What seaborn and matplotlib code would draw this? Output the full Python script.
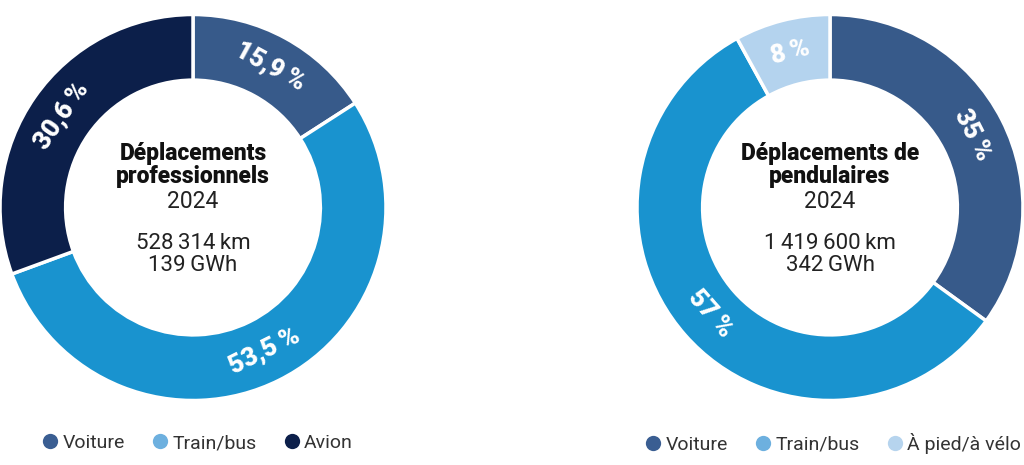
import matplotlib
matplotlib.use("Agg")
import matplotlib.pyplot as plt
from matplotlib.lines import Line2D
import numpy as np
import seaborn as sns

sns.set_theme(style="white")
plt.rcParams['font.family'] = ['Roboto', 'DejaVu Sans']

# Data
pro_categories = ["Voiture", "Train/bus", "Avion"]
pro_values = [15.9, 53.5, 30.6]
pro_labels = ["15,9\u2009%", "53,5\u2009%", "30,6\u2009%"]
pend_categories = ["Voiture", "Train/bus", "À pied/à vélo"]
pend_values = [35, 57, 8]
pend_labels = ["35\u2009%", "57\u2009%", "8\u2009%"]

pro_title = "Déplacements\nprofessionnels"
pro_year = "2024"
pro_info = "528\u2009314\u2009km\n139\u2009GWh"
pend_title = "Déplacements de\npendulaires"
pend_year = "2024"
pend_info = "1\u2009419\u2009600\u2009km\n342\u2009GWh"

wedge_colors = {"Voiture": "#375a8a", "Train/bus": "#1993cf", "Avion": "#0c1f4a",
                "À pied/à vélo": "#b4d3ee"}
legend_colors = {"Voiture": "#3a5e92", "Train/bus": "#6db0df", "Avion": "#0c1f4a",
                 "À pied/à vélo": "#b6d4ee"}

W, H = 1024, 465
fig = plt.figure(figsize=(W / 100, H / 100), dpi=100)


def donut(cx, cy, r, cats, vals, labels, title, year, info):
    ax = fig.add_axes([(cx - r) / W, (H - cy - r) / H, 2 * r / W, 2 * r / H])
    wedges, _ = ax.pie(vals, colors=[wedge_colors[c] for c in cats], startangle=90,
                       counterclock=False, radius=1.0,
                       wedgeprops=dict(width=0.34, edgecolor="white", linewidth=2.5))
    total = sum(vals)
    cum = 0
    for v, lab in zip(vals, labels):
        mid = 90 - (cum + v / 2) / total * 360
        cum += v
        a = np.deg2rad(mid)
        rr = 0.83
        x, y = rr * np.cos(a), rr * np.sin(a)
        rot = mid - 90 if np.sin(a) > 0 else mid + 90
        ax.text(x, y, lab, color="white", fontsize=18.5, fontweight="heavy",
                ha="center", va="center", rotation=rot, rotation_mode="anchor")
    ax.text(0, 0.22, title, ha="center", va="center", fontsize=16.5, fontweight="heavy",
            color="#111111", linespacing=1.05)
    ax.text(0, 0.03, year, ha="center", va="center", fontsize=16.5, color="#222222")
    ax.text(0, -0.245, info, ha="center", va="center", fontsize=16, color="#222222",
            linespacing=1.05)
    ax.set_xlim(-1, 1)
    ax.set_ylim(-1, 1)
    ax.set_aspect("equal")
    ax.axis("off")
    return ax


donut(193, 207.5, 193, pro_categories, pro_values, pro_labels, pro_title, pro_year, pro_info)
donut(830, 207.5, 193, pend_categories, pend_values, pend_labels, pend_title, pend_year, pend_info)


def legend(x, cats):
    handles = [Line2D([0], [0], marker="o", linestyle="none", markersize=11,
                      markerfacecolor=legend_colors[c], markeredgecolor="none") for c in cats]
    fig.legend(handles, cats, loc="center left", bbox_to_anchor=(x / W, 1 - 443 / H),
               ncol=3, frameon=False, fontsize=14, handletextpad=0.15, handlelength=1.0,
               columnspacing=1.3, labelcolor="#333333", borderaxespad=0, borderpad=0)


legend(40, pro_categories)
legend(643, pend_categories)

fig.savefig("out.png", dpi=100, facecolor="white")
